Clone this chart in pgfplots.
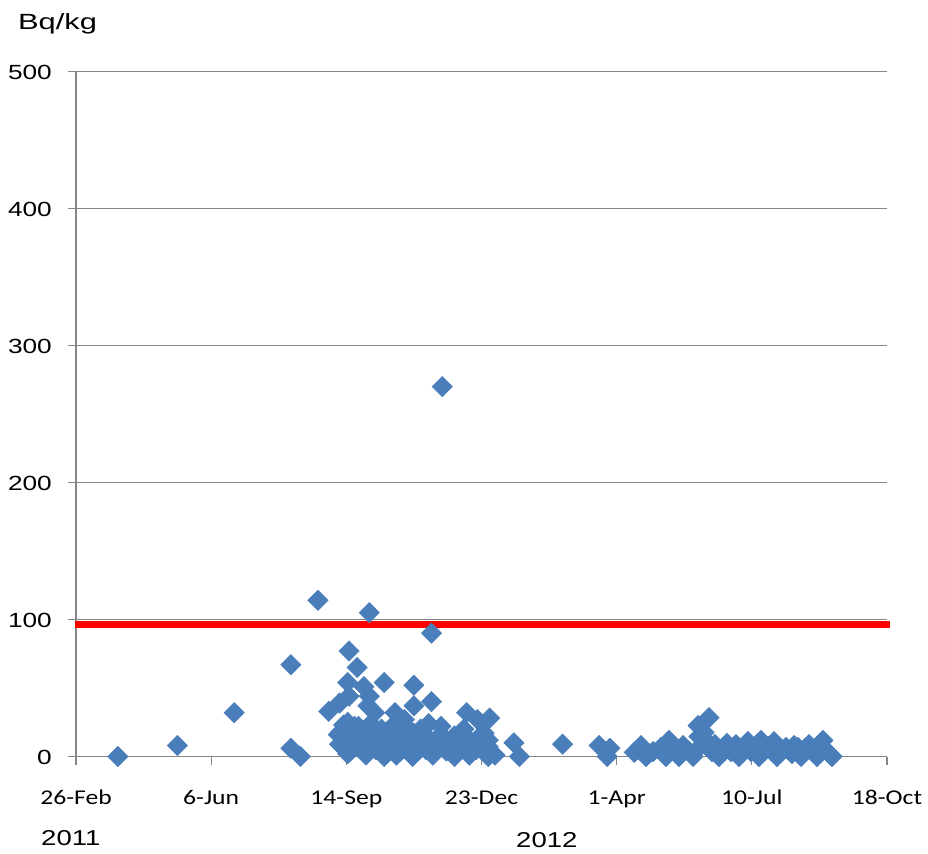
\documentclass[border=0pt]{standalone}
\usepackage{fontspec}
\setmainfont{Liberation Sans}
\newfontfamily\ylabfont[FakeStretch=1.28]{Liberation Sans}
\newfontfamily\titfont[FakeStretch=1.4]{Liberation Sans}
\newfontfamily\xlabfont[FakeStretch=1.22]{Carlito}
\usepackage{pgfplots}
\usepackage{pgfplotstable}
\pgfplotsset{compat=1.18}
\definecolor{gridgray}{HTML}{868686}
\definecolor{mblue}{HTML}{4A7EBB}
\pgfplotstableread{
x y
31 0
75 8
117 32
159 67
159 6
166 0
179 114
217 105
263 90
271 270
202 77
208 65
201 54
228 54
250 52
187 33
195 39
202 44
213 51
217 44
250 37
263 40
289 32
297 27
306 28
196 18
201 25
324 10
328 0
201 2
305 12
302 17
287 20
243 27
236 32
221 32
216 37
206 22
226 20
255 20
214.5 1
228 0
237 1
249 0
264 1
280 0
291 1
305 0
310 1
203 4
222 5
240 4
259 5
274 4
296 5
195 9
207 8
218 10
226 9
235 7
246 10
255 8
265 9
275 11
286 8
297 10
305 7
194 16
202 15
211 17
220 14
231 18
242 15
250 17
260 14
270 16
280 15
290 13
300 16
198 23
209 22
218 24
235 23
244 22
261 24
270 22
360 9
387 8
395 6
393 0
413 3
418.0 8.0
421.7 0
426.9 3.6
432.8 6.6
436.5 0
438.7 11.7
441.7 5.1
446.1 0
449.1 8.0
453.5 3.6
456.5 0
460.2 22.6
460.9 14.6
462.4 8.0
464.6 17.5
466.8 10.9
468.3 28.4
470.5 3.6
472.7 8.7
475.7 0
478.7 6.6
481.6 9.5
484.6 3.6
488.3 8.7
490.5 0
493.4 5.8
497.1 10.9
499.4 3.6
503.1 8.0
505.3 0
506.8 11.7
509.7 5.1
512.7 7.3
516.4 10.9
518.6 0
521.6 5.1
525.3 6.6
526.7 5.1
529.7 2.2
531.2 8.0
534.1 6.6
536.4 0
539.3 5.8
542.3 8.7
545.2 3.6
548.2 0
552.6 11.7
554.1 5.1
557.1 2.2
559.3 0
}\datatable
\begin{document}
\begin{tikzpicture}
\path[use as bounding box] (0,0) rectangle (928bp,854bp);
\begin{axis}[
  at={(76bp,97.5bp)}, anchor=south west,
  width=811bp, height=685bp, scale only axis,
  xmin=0, xmax=600, ymin=0, ymax=500,
  axis lines=left,
  axis line style={-, draw=gridgray, line width=1.2bp},
  xtick={0,100,...,600},
  xticklabels={26-Feb,6-Jun,14-Sep,23-Dec,1-Apr,10-Jul,18-Oct},
  ytick={0,100,...,500},
  ymajorgrids,
  grid style={draw=gridgray, line width=1.2bp},
  tick align=outside, major tick length=8bp,
  tick style={draw=gridgray, line width=1.2bp},
  xticklabel style={font=\xlabfont\fontsize{21bp}{25bp}\selectfont, anchor=base, inner sep=0pt, yshift=-40bp},
  yticklabel style={font=\ylabfont\fontsize{20.5bp}{24bp}\selectfont, anchor=base east, inner sep=0pt, xshift=-16bp, yshift=-8bp},
  /pgf/number format/assume math mode=true,
  clip=false,
]
\addplot[draw=red, line width=7bp] coordinates {(-1,96) (602,96)};
\addplot[only marks, mark=square*, mark size=7.2bp,
  mark options={rotate=45, fill=mblue, draw=mblue, line width=0.5bp}]
  table[x=x, y=y] {\datatable};
\end{axis}
\node[anchor=base west, inner sep=0pt, font=\titfont\fontsize{22bp}{26bp}\selectfont] at (18bp,824bp) {Bq/kg};
\node[anchor=base west, inner sep=0pt, font=\ylabfont\fontsize{21.5bp}{25bp}\selectfont] at (41bp,9bp) {2011};
\node[anchor=base west, inner sep=0pt, font=\ylabfont\fontsize{21.5bp}{25bp}\selectfont] at (516bp,7bp) {2012};
\end{tikzpicture}
\end{document}
